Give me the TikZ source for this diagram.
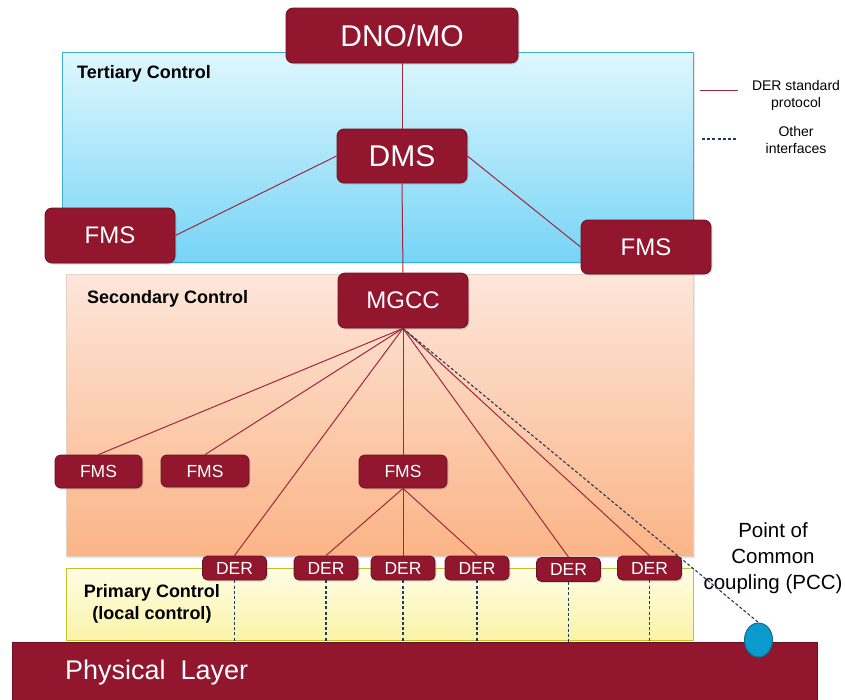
\documentclass[tikz,border=0pt]{standalone}
\usepackage{fontspec}
\setmainfont{Liberation Sans}
\usetikzlibrary{shapes.geometric,shadows}
\definecolor{boxred}{RGB}{146,23,46}
\definecolor{boxborder}{RGB}{106,16,32}
\definecolor{linered}{RGB}{160,40,60}
\definecolor{navy}{RGB}{31,58,100}
\definecolor{terttop}{RGB}{223,247,254}
\definecolor{tertbot}{RGB}{118,212,246}
\definecolor{tertborder}{RGB}{59,175,214}
\definecolor{sectop}{RGB}{253,230,218}
\definecolor{secbot}{RGB}{251,180,134}
\definecolor{secborder}{RGB}{225,210,200}
\definecolor{primtop}{RGB}{255,253,228}
\definecolor{primbot}{RGB}{250,243,168}
\definecolor{primborder}{RGB}{200,192,42}
\definecolor{pccfill}{RGB}{10,154,203}
\definecolor{pccborder}{RGB}{10,110,150}
\tikzset{
  redbox/.style={rectangle, rounded corners=7pt, fill=boxred, draw=boxborder, line width=0.8pt,
    text=white, inner sep=0pt, drop shadow={shadow xshift=1.5pt, shadow yshift=-1.5pt, opacity=0.25}},
  bigtxt/.style={font=\fontsize{30}{36}\selectfont},
  medtxt/.style={font=\fontsize{24}{29}\selectfont},
  smltxt/.style={font=\fontsize{17.5}{21}\selectfont},
  dertxt/.style={font=\fontsize{17.5}{21}\selectfont},
  layerlabel/.style={font=\bfseries\fontsize{18}{21.5}\selectfont, text=black, inner sep=0pt},
  conn/.style={draw=linered, line width=1pt},
  other/.style={draw=navy, line width=1.1pt, dash pattern=on 3pt off 2.2pt},
  legtxt/.style={font=\fontsize{14}{17}\selectfont, align=center, inner sep=0pt},
}
\begin{document}
\begin{tikzpicture}[x=1pt,y=-1pt]
\useasboundingbox (0,0) rectangle (845,699);
% layers
\path[top color=terttop, bottom color=tertbot, draw=tertborder, line width=1pt,
  drop shadow={shadow xshift=2pt, shadow yshift=-2pt, opacity=0.2}] (62,52) rectangle (693,262);
\path[top color=sectop, bottom color=secbot, draw=secborder, line width=0.8pt,
  drop shadow={shadow xshift=2pt, shadow yshift=-2pt, opacity=0.2}] (66,274) rectangle (693,556);
\path[top color=primtop, bottom color=primbot, draw=primborder, line width=1pt] (66,568) rectangle (693,640);
\node[rectangle, fill=boxred, draw=boxborder, line width=0.8pt, minimum width=805pt, minimum height=60pt,
  anchor=north west, inner sep=0pt] (phys) at (12,642) {};
\node[anchor=west, text=white, font=\fontsize{27}{32}\selectfont, inner sep=0pt] (physlbl) at (65,673) {Physical\ \ Layer};

\node[layerlabel, anchor=west] (tert) at (77,74) {Tertiary Control};
\node[layerlabel, anchor=west] (sec) at (87,299) {Secondary Control};
\node[layerlabel, align=center] (prim) at (152,604) {Primary Control\\(local control)};

% nodes
\node[redbox, bigtxt, minimum width=232pt, minimum height=55pt] (dno) at (402,35.5) {DNO/MO};
\node[redbox, bigtxt, minimum width=130pt, minimum height=54pt] (dms) at (402,156) {DMS};
\node[redbox, medtxt, minimum width=130pt, minimum height=55pt] (fmsL) at (110,235.5) {FMS};
\node[redbox, medtxt, minimum width=130pt, minimum height=54pt] (fmsR) at (646,247) {FMS};
\node[redbox, medtxt, minimum width=130pt, minimum height=55pt] (mgcc) at (403,300.5) {MGCC};
\node[redbox, smltxt, rounded corners=6pt, minimum width=87pt, minimum height=33pt] (f1) at (98.5,471.5) {FMS};
\node[redbox, smltxt, rounded corners=6pt, minimum width=88pt, minimum height=32pt] (f2) at (205,471) {FMS};
\node[redbox, smltxt, rounded corners=6pt, minimum width=88pt, minimum height=33pt] (f3) at (403,471.5) {FMS};
\foreach \n/\x/\y in {der1/234.5/568, der2/326/568, der3/403/568, der4/477/568, der5/568.5/569.5, der6/649.5/568}{
  \node[redbox, dertxt, rounded corners=5pt, minimum width=64pt, minimum height=24pt] (\n) at (\x,\y) {DER};
}
\node[ellipse, fill=pccfill, draw=pccborder, line width=1pt, minimum width=28pt, minimum height=34pt, inner sep=0pt] (pcc) at (758.5,640) {};
\node[align=center, font=\fontsize{20.5}{26}\selectfont, inner sep=0pt] (pcclbl) at (773,558) {Point of\\Common\\coupling (PCC)};

% connectors
\draw[conn] (dno.south) -- (dms.north);
\draw[conn] (dms.west) -- (fmsL.east);
\draw[conn] (dms.east) -- (fmsR.west);
\draw[conn] (dms.south) -- (mgcc.north);
\foreach \t in {f1,f2,der1,f3,der5,der6}{
  \draw[conn] (mgcc.south) -- (\t.north);
}
\foreach \t in {der2,der3,der4}{
  \draw[conn] (f3.south) -- (\t.north);
}
\draw[other] (mgcc.south) -- (pcc.north);
\foreach \t in {der1,der2,der3,der4,der5,der6}{
  \draw[other] (\t.south) -- (\t.south |- phys.north);
}

% legend
\coordinate (la) at (700,90);
\coordinate (lb) at (738,90);
\coordinate (lc) at (702,139);
\coordinate (ld) at (738,139);
\draw[conn] (la) -- (lb);
\draw[other] (lc) -- (ld);
\node[legtxt] (leg1) at (796,95) {DER standard\\protocol};
\node[legtxt] (leg2) at (796,140) {Other\\interfaces};
\end{tikzpicture}
\end{document}
